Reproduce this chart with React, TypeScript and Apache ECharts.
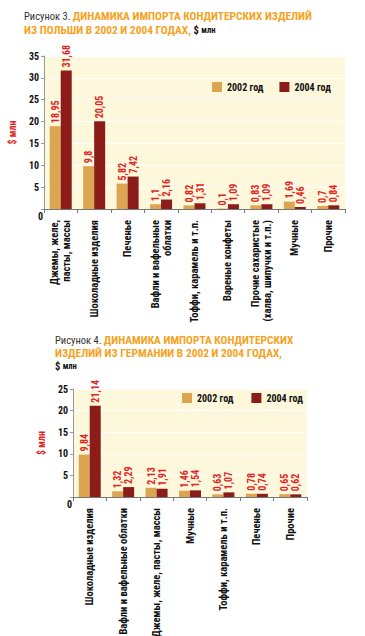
import React, { useEffect, useRef } from 'react';
import * as echarts from 'echarts';

const cats1 = [
  'Джемы, желе,\nпасты, массы',
  'Шоколадные изделия',
  'Печенье',
  'Вафли и вафельные\nоблатки',
  'Тоффи, карамель и т.п.',
  'Вареные конфеты',
  'Прочие сахаристые\n(халва, шипучки и т.п.)',
  'Мучные',
  'Прочие',
];
const pl2002 = [18.95, 9.8, 5.82, 1.1, 0.82, 0.1, 0.83, 1.69, 0.7];
const pl2004 = [31.68, 20.05, 7.42, 2.16, 1.31, 1.09, 1.09, 0.46, 0.84];

const cats2 = [
  'Шоколадные изделия',
  'Вафли и вафельные облатки',
  'Джемы, желе, пасты, массы',
  'Мучные',
  'Тоффи, карамель и т.п.',
  'Печенье',
  'Прочие',
];
const de2002 = [9.84, 1.32, 2.13, 1.46, 0.63, 0.78, 0.65];
const de2004 = [21.14, 2.29, 1.91, 1.54, 1.07, 0.74, 0.62];

const yMax1 = 35;
const yMax2 = 25;
const yStep = 5;
const seriesNames = ['2002 год', '2004 год'];

const title1 = ['{a|Рисунок 3. }{b|ДИНАМИКА ИМПОРТА КОНДИТЕРСКИХ ИЗДЕЛИЙ}', '{b|ИЗ ПОЛЬШИ В 2002 И 2004 ГОДАХ, }{c|$ }{d|млн}'];
const title2 = ['{a|Рисунок 4. }{b|ДИНАМИКА ИМПОРТА КОНДИТЕРСКИХ}', '{b|ИЗДЕЛИЙ ИЗ ГЕРМАНИИ В 2002 И 2004 ГОДАХ,}', '{c|$ }{d|млн}'];

const FONT = '"Roboto Condensed", "Open Sans Condensed", sans-serif';
const C_ORANGE = '#dca551';
const C_RED = '#8b1c18';
const C_LABEL = '#e0261e';
const C_TITLE = '#f6a21d';
const C_BG = '#fdf7dc';

export default function App() {
  const ref = useRef<HTMLDivElement>(null);
  useEffect(() => {
    if (!ref.current) return;
    const chart = echarts.init(ref.current, undefined, { renderer: 'svg' });
    const valLabel = {
      show: true,
      position: 'top',
      rotate: 90,
      align: 'left',
      verticalAlign: 'middle',
      distance: 3,
      color: C_LABEL,
      fontWeight: 'bold',
      fontSize: 10,
      fontFamily: FONT,
      formatter: (p: any) => String(p.value).replace('.', ','),
    };
    const xAxisBase = (data: string[], gridIndex: number) => ({
      type: 'category',
      gridIndex,
      data,
      axisLine: { lineStyle: { color: '#777', width: 1 } },
      axisTick: { show: true, length: 4, lineStyle: { color: '#777' } },
      axisLabel: {
        interval: 0,
        rotate: 90,
        margin: 11,
        color: '#111',
        fontWeight: 'bold',
        fontSize: 10.5,
        lineHeight: 12,
        fontFamily: FONT,
      },
    });
    const yAxisBase = (max: number, gridIndex: number, gap: number) => ({
      type: 'value',
      gridIndex,
      min: 0,
      max,
      interval: yStep,
      name: '$ млн',
      nameLocation: 'middle',
      nameGap: gap,
      nameTextStyle: { color: C_LABEL, fontWeight: 'bold', fontSize: 10, fontFamily: FONT },
      axisLine: { show: true, lineStyle: { color: '#999' } },
      axisTick: { show: true, length: 3, lineStyle: { color: '#999' } },
      axisLabel: {
        color: '#111',
        fontWeight: 'bold',
        fontSize: 10,
        fontFamily: FONT,
        margin: 5,
        formatter: (v: number) => (v === 0 ? '' : String(v)),
      },
      splitLine: { show: true, lineStyle: { color: '#ffffff', width: 1 } },
    });
    const legendBase = (left: number, top: number, gap: number) => ({
      left,
      top,
      padding: 0,
      orient: 'horizontal',
      data: seriesNames,
      icon: 'rect',
      itemWidth: 10,
      itemHeight: 10,
      itemGap: gap,
      selectedMode: false,
      textStyle: { color: '#111', fontWeight: 'bold', fontSize: 10, fontFamily: FONT },
    });
    const titleRich = {
      a: { fontSize: 10.5, lineHeight: 12, fill: '#333', fontFamily: FONT },
      b: { fontSize: 11.4, lineHeight: 12, fill: C_TITLE, fontWeight: 'bold', fontFamily: FONT },
      c: { fontSize: 10.5, lineHeight: 12, fill: '#111', fontWeight: 'bold', fontFamily: FONT },
      d: { fontSize: 8.5, lineHeight: 12, fill: '#111', fontWeight: 'bold', fontFamily: FONT },
    };
    const titleLines = (lines: string[], left: number, top: number, step: number) =>
      lines.map((t, i) => ({
        type: 'text',
        left,
        top: top + i * step,
        style: { text: t, rich: titleRich, lineHeight: 12 },
      }));
    chart.setOption({
      animation: false,
      backgroundColor: '#ffffff',
      grid: [
        { left: 44, top: 56, width: 301, height: 153, show: true, backgroundColor: C_BG, borderWidth: 0, outerBoundsMode: 'none' },
        { left: 73, top: 389, width: 234, height: 108, show: true, backgroundColor: C_BG, borderWidth: 0, outerBoundsMode: 'none' },
      ],
      xAxis: [xAxisBase(cats1, 0), xAxisBase(cats2, 1)],
      yAxis: [yAxisBase(yMax1, 0, 19), yAxisBase(yMax2, 1, 21)],
      legend: [legendBase(212, 82, 16), legendBase(182, 393, 18)],
      series: [
        { name: seriesNames[0], type: 'bar', xAxisIndex: 0, yAxisIndex: 0, data: pl2002, barWidth: 11, barGap: '0%', itemStyle: { color: C_ORANGE }, label: valLabel },
        { name: seriesNames[1], type: 'bar', xAxisIndex: 0, yAxisIndex: 0, data: pl2004, barWidth: 11, barGap: '0%', itemStyle: { color: C_RED }, label: valLabel },
        { name: seriesNames[0], type: 'bar', xAxisIndex: 1, yAxisIndex: 1, data: de2002, barWidth: 11, barGap: '0%', itemStyle: { color: C_ORANGE }, label: valLabel },
        { name: seriesNames[1], type: 'bar', xAxisIndex: 1, yAxisIndex: 1, data: de2004, barWidth: 11, barGap: '0%', itemStyle: { color: C_RED }, label: valLabel },
      ],
      graphic: [
        ...titleLines(title1, 24, 10, 14),
        ...titleLines(title2, 55, 334, 13),
        { type: 'text', left: 38, top: 211, style: { text: '0', fontSize: 10, fontWeight: 'bold', fontFamily: FONT, fill: '#111' } },
        { type: 'text', left: 67, top: 499, style: { text: '0', fontSize: 10, fontWeight: 'bold', fontFamily: FONT, fill: '#111' } },
      ],
    });
    return () => chart.dispose();
  }, []);
  return <div ref={ref} style={{ position: 'absolute', left: 0, top: 0, width: 365, height: 636 }} />;
}
